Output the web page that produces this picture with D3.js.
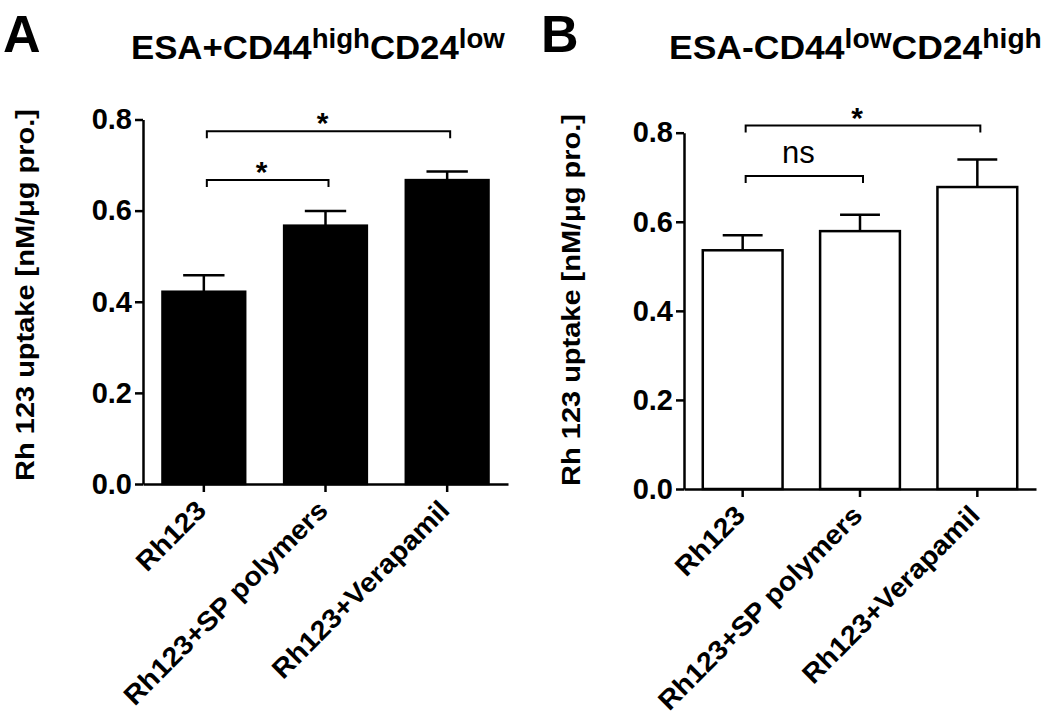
<!DOCTYPE html>
<html>
<head>
<meta charset="utf-8">
<script src="https://cdn.jsdelivr.net/npm/d3@7"></script>
<style>
  body { margin: 0; background: #fff; }
  svg { display: block; }
  text { font-family: "Liberation Sans", Arial, Helvetica, sans-serif; fill: #000; }
</style>
</head>
<body>
<svg id="chart"></svg>
<script>
// ---- data
let categories = ['Rh123', 'Rh123+SP polymers', 'Rh123+Verapamil']
let yTicks = [0.0, 0.2, 0.4, 0.6, 0.8]

let meanA = [0.422, 0.567, 0.667]
let semA = [0.036, 0.032, 0.019]
let meanB = [0.536, 0.579, 0.678]
let semB = [0.034, 0.037, 0.062]

// brackets: from / to category index, height in data units, mark
let sigA = [
  {from: 0, to: 1, level: 0.667, mark: '*'},
  {from: 0, to: 2, level: 0.774, mark: '*'}
]
let sigB = [
  {from: 0, to: 1, level: 0.703, mark: 'ns'},
  {from: 0, to: 2, level: 0.816, mark: '*'}
]

let titleA = [['ESA+CD44', false], ['high', true], ['CD24', false], ['low', true]]
let titleB = [['ESA-CD44', false], ['low', true], ['CD24', false], ['high', true]]
let yLabel = 'Rh 123 uptake [nM/\u03bcg pro.]'

// ---- layout
let W = 1050, H = 720
let svg = d3.select('#chart').attr('width', W).attr('height', H)

let panels = [
  {letter: 'A', title: titleA, means: meanA, errs: semA, sig: sigA, fill: '#000',
   x0: 143, x1: 508, yTop: 119.5, yBot: 484, letterX: 3, titleX: 131, titleW: 374,
   labX: 34, labY: 295},
  {letter: 'B', title: titleB, means: meanB, errs: semB, sig: sigB, fill: '#fff',
   x0: 684, x1: 1036, yTop: 132.7, yBot: 489, letterX: 541, titleX: 669, titleW: 373,
   labX: 580, labY: 300}
]

let labelStretch = 1.06

function drawPanel(p){
  let g = svg.append('g')

  let x = d3.scaleBand()
    .domain(categories)
    .range([p.x0, p.x1])
    .paddingInner(0.32)
    .paddingOuter(0.16)

  let y = d3.scaleLinear()
    .domain([0, 0.8])
    .range([p.yBot, p.yTop])

  let cx = i => x(categories[i]) + x.bandwidth()/2

  // bars
  g.selectAll('rect.bar').data(p.means).enter().append('rect')
    .attr('class', 'bar')
    .attr('x', (d, i) => x(categories[i]))
    .attr('y', d => y(d))
    .attr('width', x.bandwidth())
    .attr('height', d => y(0) - y(d))
    .attr('fill', p.fill)
    .attr('stroke', '#000')
    .attr('stroke-width', 2.5)

  // error bars (upper only)
  let capW = x.bandwidth()*0.25
  let eb = g.selectAll('g.err').data(p.means).enter().append('g').attr('class', 'err')
  eb.append('line')
    .attr('x1', (d, i) => cx(i)).attr('x2', (d, i) => cx(i))
    .attr('y1', d => y(d)).attr('y2', (d, i) => y(d + p.errs[i]))
    .attr('stroke', '#000').attr('stroke-width', 2.5)
  eb.append('line')
    .attr('x1', (d, i) => cx(i) - capW).attr('x2', (d, i) => cx(i) + capW)
    .attr('y1', (d, i) => y(d + p.errs[i])).attr('y2', (d, i) => y(d + p.errs[i]))
    .attr('stroke', '#000').attr('stroke-width', 2.5)

  // axes
  let axY = g.append('g')
    .attr('transform', `translate(${p.x0},0)`)
    .call(d3.axisLeft(y).tickValues(yTicks).tickFormat(d3.format('.1f'))
      .tickSize(8).tickSizeOuter(0).tickPadding(3))
  axY.selectAll('text')
    .style('font-size', '29px').style('font-weight', 'bold')

  let axX = g.append('g')
    .attr('transform', `translate(0,${p.yBot})`)
    .call(d3.axisBottom(x).tickSize(8).tickSizeOuter(0).tickFormat(''))

  g.selectAll('.domain, .tick line').attr('stroke', '#000').attr('stroke-width', 2.5)

  // category labels, rotated
  categories.forEach((c, i) => {
    let t = g.append('text')
      .attr('text-anchor', 'end')
      .style('font-size', '27px').style('font-weight', 'bold')
      .text(c)
    t.attr('transform', `translate(${cx(i) + 4},${p.yBot + 28}) rotate(-45) scale(${labelStretch},1)`)
  })

  // significance brackets
  let drop = 7
  p.sig.forEach(s => {
    let xa = cx(s.from) + 3, xb = cx(s.to) + 3, yy = y(s.level)
    g.append('path')
      .attr('d', d3.line()([[xa, yy + drop], [xa, yy], [xb, yy], [xb, yy + drop]]))
      .attr('fill', 'none').attr('stroke', '#000').attr('stroke-width', 2)
    let isStar = s.mark == '*'
    g.append('text')
      .attr('x', (xa + xb)/2 - 6)
      .attr('y', isStar ? yy + 2 : yy - 13)
      .attr('text-anchor', 'middle')
      .style('font-size', isStar ? '30px' : '31px')
      .style('font-weight', isStar ? 'bold' : 'normal')
      .text(s.mark)
  })

  // y label
  let yl = g.append('text')
    .attr('text-anchor', 'middle')
    .style('font-size', '26px').style('font-weight', 'bold')
    .text(yLabel)
  let ylW = yl.node().getComputedTextLength()
  yl.attr('transform', `translate(${p.labX},${p.labY}) rotate(-90) scale(${372/ylW},1)`)

  // panel letter
  g.append('text')
    .attr('x', p.letterX).attr('y', 52)
    .style('font-size', '52px').style('font-weight', 'bold')
    .text(p.letter)

  // title with superscripts
  let tt = g.append('text')
    .style('font-size', '34px').style('font-weight', 'bold')
  let prevSup = false
  p.title.forEach(part => {
    let sp = tt.append('tspan').text(part[0])
    if (part[1]) {
      sp.style('font-size', '27px').attr('dy', -11)
    } else if (prevSup) {
      sp.attr('dy', 11)
    }
    prevSup = part[1]
  })
  let tW = tt.node().getComputedTextLength()
  tt.attr('transform', `translate(${p.titleX},59) scale(${p.titleW/tW},1)`)
}

panels.forEach(drawPanel)
</script>
</body>
</html>
